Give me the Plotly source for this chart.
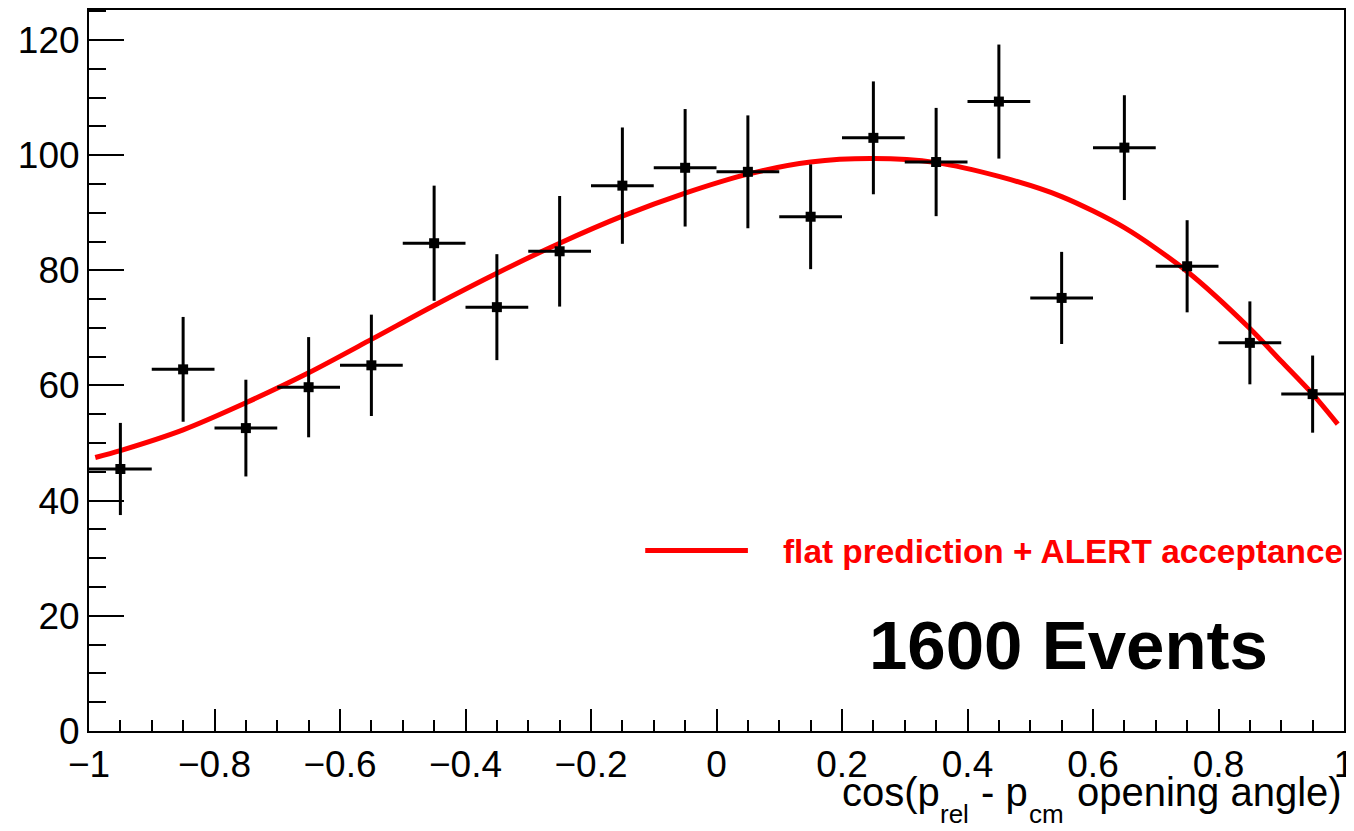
import plotly.graph_objects as go

# ---- data ----
bin_centers = [-0.95, -0.85, -0.75, -0.65, -0.55, -0.45, -0.35, -0.25, -0.15, -0.05,
               0.05, 0.15, 0.25, 0.35, 0.45, 0.55, 0.65, 0.75, 0.85, 0.95]
counts = [45.5, 62.8, 52.6, 59.7, 63.5, 84.7, 73.6, 83.3, 94.7, 97.8,
          97.1, 89.3, 103.0, 98.8, 109.3, 75.2, 101.3, 80.7, 67.4, 58.5]
count_err = [8.0, 9.1, 8.4, 8.7, 8.8, 10.0, 9.2, 9.6, 10.1, 10.2,
             9.8, 9.1, 9.8, 9.4, 9.9, 8.0, 9.1, 8.0, 7.2, 6.7]
bin_half_width = [0.05] * len(bin_centers)

curve_x = [-0.99, -0.95, -0.85, -0.75, -0.65, -0.55, -0.45, -0.35, -0.25, -0.15, -0.05,
           0.05, 0.15, 0.25, 0.35, 0.45, 0.55, 0.65, 0.75, 0.85, 0.90, 0.95, 0.99]
curve_y = [47.5, 48.7, 52.3, 57.0, 62.2, 68.0, 73.9, 79.5, 84.7, 89.4, 93.4,
           96.7, 98.8, 99.4, 98.7, 96.3, 92.8, 87.4, 79.8, 69.9, 64.2, 58.5, 53.3]

x_tick_vals = [-1, -0.8, -0.6, -0.4, -0.2, 0, 0.2, 0.4, 0.6, 0.8, 1]
x_tick_text = ["\u22121", "\u22120.8", "\u22120.6", "\u22120.4", "\u22120.2", "0",
               "0.2", "0.4", "0.6", "0.8", "1"]
y_tick_vals = [0, 20, 40, 60, 80, 100, 120]

legend_label = "flat prediction + ALERT acceptance"
events_label = "1600 Events"
# axis title pieces: (text, is_subscript)
title_parts = [("cos(p", False), ("rel", True), ("- p", False), ("cm", True),
               ("opening angle)", False)]

FONT = "Liberation Sans, Arial, Helvetica, sans-serif"

# page body has an 8px margin, so the figure is shifted by 8px; compensate
OFF = 8
W, H = 1354 - OFF, 831 - OFF
PL, PR, PT, PB = 89, 1348, 8, 731   # plot-area edges in page pixels


def px(xp):
    return (xp - PL) / (PR - PL)


def py(yp):
    return (PB - yp) / (PB - PT)


fig = go.Figure()

fig.add_trace(go.Scatter(
    x=curve_x, y=curve_y, mode="lines",
    line=dict(color="#ff0000", width=5, shape="spline", smoothing=0.8),
    name=legend_label, showlegend=False, hoverinfo="skip",
))

fig.add_trace(go.Scatter(
    x=bin_centers, y=counts, mode="markers",
    marker=dict(symbol="square", size=10, color="black"),
    error_x=dict(type="data", array=bin_half_width, width=0, thickness=3, color="black"),
    error_y=dict(type="data", array=count_err, width=0, thickness=3, color="black"),
    showlegend=False,
))

# legend sample (drawn manually, ROOT style)
fig.add_shape(type="line", xref="paper", yref="paper",
              x0=px(647), x1=px(750), y0=py(550), y1=py(550),
              line=dict(color="#ff0000", width=5))
fig.add_annotation(xref="paper", yref="paper",
                   x=px(783), y=py(551),
                   xanchor="left", yanchor="middle", showarrow=False,
                   text="<b>" + legend_label + "</b>",
                   font=dict(family=FONT, size=33.4, color="#ff0000"))
fig.add_annotation(xref="paper", yref="paper",
                   x=px(869), y=py(645),
                   xanchor="left", yanchor="middle", showarrow=False,
                   text="<b>" + events_label + "</b>",
                   font=dict(family=FONT, size=69, color="black"))

# x-axis title, ROOT style (right aligned, low subscripts)
title_x = [843, 942, 983, 1031, 1347]
title_anchor = ["left", "left", "left", "left", "right"]
for (txt, is_sub), xp, anc in zip(title_parts, title_x, title_anchor):
    fig.add_annotation(xref="paper", yref="paper",
                       x=px(xp), y=py(814 if is_sub else 792),
                       xanchor=anc, yanchor="middle", showarrow=False,
                       text=txt, borderpad=0,
                       font=dict(family=FONT, size=26 if is_sub else 40, color="black"))

fig.update_layout(
    width=W, height=H,
    margin=dict(l=PL - OFF, r=W - (PR - OFF), t=PT - OFF, b=H - (PB - OFF)),
    paper_bgcolor="white", plot_bgcolor="white",
    font=dict(family=FONT, size=37, color="black"),
    showlegend=False,
)
fig.update_xaxes(
    range=[-1, 1], tickvals=x_tick_vals, ticktext=x_tick_text,
    ticks="inside", ticklen=22, tickwidth=2, tickcolor="black",
    minor=dict(dtick=0.05, tick0=0, ticks="inside", ticklen=11, tickwidth=2, tickcolor="black"),
    showline=True, linecolor="black", linewidth=2, mirror=True,
    showgrid=False, zeroline=False, ticklabeloverflow="allow",
    tickfont=dict(family=FONT, size=37, color="black"),
)
fig.update_yaxes(
    range=[0, 125.2], tickvals=y_tick_vals,
    ticks="inside", ticklen=35, tickwidth=2, tickcolor="black",
    minor=dict(dtick=5, tick0=0, ticks="inside", ticklen=17, tickwidth=2, tickcolor="black"),
    showline=True, linecolor="black", linewidth=2, mirror=True,
    showgrid=False, zeroline=False,
    tickfont=dict(family=FONT, size=37, color="black"),
)

fig.write_html("out.html")
